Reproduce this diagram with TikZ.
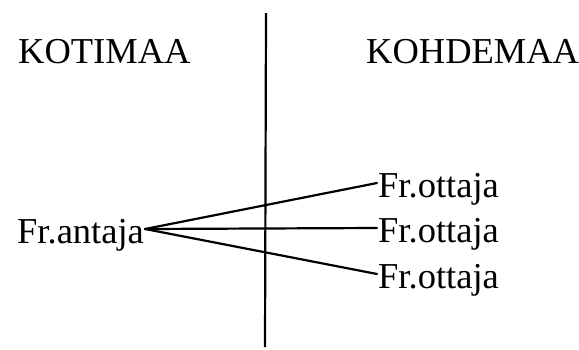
\documentclass[tikz,border=0pt]{standalone}
\usepackage{fontspec}
\setmainfont{Liberation Serif}
\usepackage{tikz}
\tikzset{
  frhead/.style={anchor=base west, inner sep=0pt, font=\fontsize{36.5}{40}\selectfont},
  frparty/.style={inner ysep=0pt, inner xsep=1pt, text height=28pt, text depth=0pt, font=\fontsize{36.5}{40}\selectfont},
  frline/.style={line width=2.2pt, draw=black, line cap=round},
  frdivider/.style={line width=2.2pt, draw=black},
}

\begin{document}
\begin{tikzpicture}[x=1pt, y=-1pt]
\useasboundingbox (0,0) rectangle (579,349);
\coordinate (divtop) at (266,13);
\coordinate (divbot) at (265,347);
\draw[frdivider] (divtop) -- (divbot);
\node[frhead] (koti) at (18,63) {KOTIMAA};
\node[frhead] (kohde) at (366,63) {KOHDEMAA};
\node[frparty, anchor=base west] (antaja) at (16,243) {Fr.antaja};
\node[frparty, anchor=base west] (ottaja1) at (377,197) {Fr.ottaja};
\node[frparty, anchor=base west] (ottaja2) at (377,242) {Fr.ottaja};
\node[frparty, anchor=base west] (ottaja3) at (377,288) {Fr.ottaja};
\draw[frline] (antaja.east) -- (ottaja1.west);
\draw[frline] (antaja.east) -- (ottaja2.west);
\draw[frline] (antaja.east) -- (ottaja3.west);
\end{tikzpicture}
\end{document}
